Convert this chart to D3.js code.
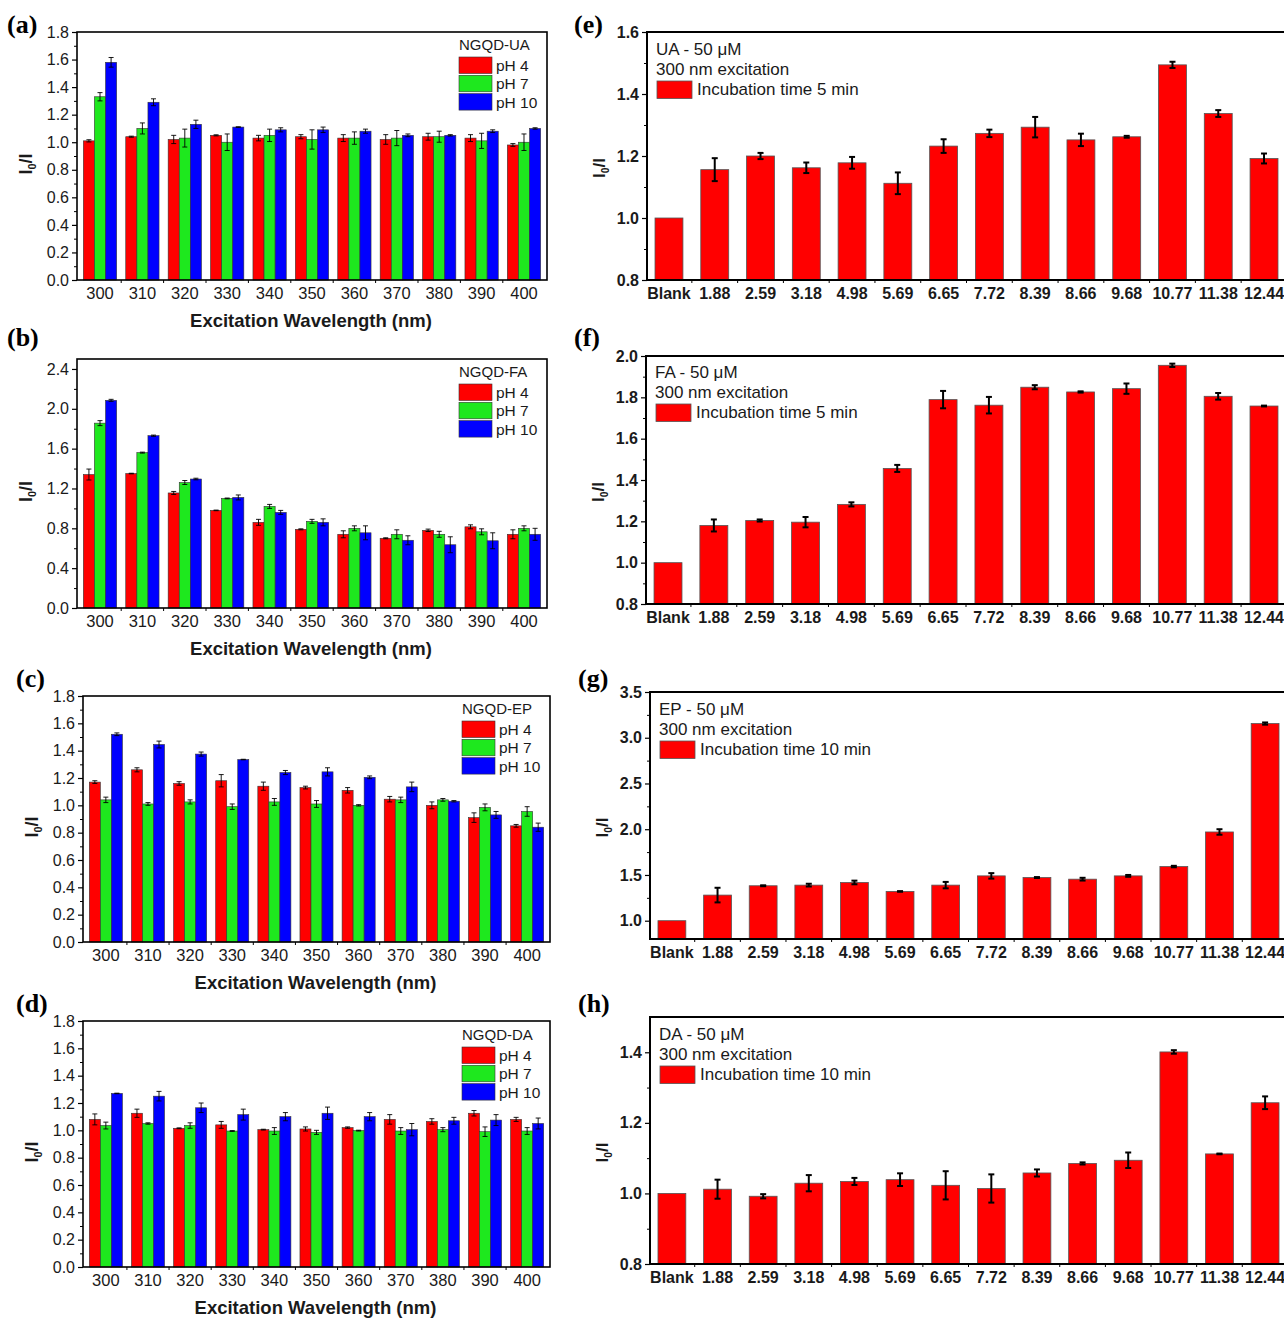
<html>
<head>
<meta charset="utf-8" />
<script src="https://cdn.jsdelivr.net/npm/d3@7/dist/d3.min.js"></script>
<style>
body { margin: 0; background: #fff; }
text { font-family: "Liberation Sans", Arial, sans-serif; fill: #1a1a1a; }
.narrow { font-family: "Liberation Sans Narrow", "Arial Narrow", "Liberation Sans", sans-serif; }
.plabel { font-family: "Liberation Serif", "Times New Roman", serif; font-weight: bold; fill: #000; }
</style>
</head>
<body>
<script>

// ---- data ----
var wavelengths = ["300", "310", "320", "330", "340", "350", "360", "370", "380", "390", "400"];
var phLabels = ["pH 4", "pH 7", "pH 10"];
var phColors = ["#ff0000", "#1ee81e", "#0000ff"];
var concLabels = ["Blank", "1.88", "2.59", "3.18", "4.98", "5.69", "6.65", "7.72", "8.39", "8.66", "9.68", "10.77", "11.38", "12.44"];

var uaPh4  = [1.01, 1.04, 1.02, 1.05, 1.03, 1.04, 1.03, 1.02, 1.04, 1.03, 0.98];
var uaPh4Err  = [0.008, 0.004, 0.03, 0.004, 0.02, 0.015, 0.025, 0.035, 0.025, 0.025, 0.01];
var uaPh7  = [1.33, 1.10, 1.03, 1.00, 1.05, 1.02, 1.03, 1.03, 1.04, 1.01, 1.00];
var uaPh7Err  = [0.03, 0.04, 0.065, 0.06, 0.045, 0.07, 0.045, 0.055, 0.04, 0.055, 0.06];
var uaPh10 = [1.58, 1.29, 1.13, 1.11, 1.09, 1.09, 1.08, 1.05, 1.05, 1.08, 1.10];
var uaPh10Err = [0.035, 0.025, 0.03, 0.002, 0.015, 0.02, 0.015, 0.01, 0.005, 0.01, 0.005];

var faPh4  = [1.34, 1.35, 1.155, 0.98, 0.86, 0.79, 0.74, 0.70, 0.78, 0.815, 0.74];
var faPh4Err  = [0.055, 0.003, 0.015, 0.003, 0.03, 0.005, 0.035, 0.005, 0.012, 0.02, 0.045];
var faPh7  = [1.856, 1.56, 1.26, 1.10, 1.02, 0.87, 0.80, 0.74, 0.74, 0.765, 0.80];
var faPh7Err  = [0.025, 0.005, 0.02, 0.004, 0.02, 0.02, 0.025, 0.045, 0.03, 0.03, 0.025];
var faPh10 = [2.085, 1.73, 1.295, 1.11, 0.96, 0.86, 0.755, 0.68, 0.635, 0.675, 0.74];
var faPh10Err = [0.01, 0.006, 0.008, 0.025, 0.02, 0.035, 0.07, 0.045, 0.08, 0.08, 0.06];

var epPh4  = [1.17, 1.26, 1.16, 1.18, 1.14, 1.13, 1.11, 1.045, 1.00, 0.91, 0.85];
var epPh4Err  = [0.01, 0.015, 0.013, 0.045, 0.03, 0.01, 0.02, 0.02, 0.025, 0.035, 0.01];
var epPh7  = [1.04, 1.01, 1.025, 0.99, 1.025, 1.01, 1.0, 1.04, 1.04, 0.985, 0.955];
var epPh7Err  = [0.02, 0.01, 0.015, 0.02, 0.025, 0.025, 0.005, 0.02, 0.01, 0.025, 0.035];
var epPh10 = [1.52, 1.445, 1.375, 1.335, 1.24, 1.245, 1.205, 1.135, 1.03, 0.93, 0.84];
var epPh10Err = [0.01, 0.025, 0.015, 0.002, 0.015, 0.03, 0.01, 0.035, 0.005, 0.025, 0.03];

var daPh4  = [1.08, 1.125, 1.015, 1.04, 1.005, 1.01, 1.02, 1.08, 1.065, 1.125, 1.08];
var daPh4Err  = [0.04, 0.03, 0.003, 0.025, 0.003, 0.015, 0.005, 0.035, 0.02, 0.02, 0.015];
var daPh7  = [1.035, 1.05, 1.035, 0.995, 0.995, 0.985, 0.998, 0.995, 1.005, 0.99, 0.995];
var daPh7Err  = [0.025, 0.005, 0.02, 0.003, 0.025, 0.015, 0.003, 0.025, 0.015, 0.035, 0.025];
var daPh10 = [1.27, 1.25, 1.165, 1.115, 1.1, 1.125, 1.1, 1.005, 1.07, 1.075, 1.05];
var daPh10Err = [0.002, 0.035, 0.035, 0.04, 0.03, 0.045, 0.03, 0.045, 0.025, 0.04, 0.04];

var ua5min  = [1.0, 1.156, 1.2, 1.162, 1.178, 1.112, 1.232, 1.273, 1.293, 1.252, 1.262, 1.494, 1.337, 1.192];
var ua5minErr = [0, 0.037, 0.01, 0.017, 0.019, 0.035, 0.022, 0.012, 0.033, 0.02, 0.003, 0.01, 0.011, 0.016];
var fa5min  = [1.0, 1.18, 1.204, 1.196, 1.282, 1.456, 1.789, 1.762, 1.849, 1.826, 1.842, 1.955, 1.805, 1.758];
var fa5minErr = [0, 0.029, 0.005, 0.025, 0.01, 0.017, 0.042, 0.04, 0.01, 0.003, 0.025, 0.008, 0.016, 0.002];
var ep10min = [1.0, 1.28, 1.382, 1.389, 1.418, 1.32, 1.389, 1.49, 1.472, 1.454, 1.49, 1.592, 1.97, 3.155];
var ep10minErr = [0, 0.08, 0.005, 0.015, 0.02, 0.003, 0.035, 0.03, 0.005, 0.015, 0.01, 0.008, 0.03, 0.012];
var da10min = [1.0, 1.012, 0.992, 1.029, 1.034, 1.039, 1.023, 1.014, 1.058, 1.085, 1.094, 1.401, 1.112, 1.257];
var da10minErr = [0, 0.027, 0.006, 0.023, 0.01, 0.018, 0.04, 0.04, 0.01, 0.003, 0.022, 0.005, 0.001, 0.018];

var svg = d3.select("body").append("svg").attr("width", 1284).attr("height", 1318);

function yTitle(g, x, y, size, cls) {
	let t = g.append("text")
	    .attr("class", cls || null)
	    .attr("transform", `translate(${x},${y}) rotate(-90)`)
	    .attr("text-anchor", "middle")
	    .attr("font-weight", "bold")
	    .attr("font-size", size);
	t.append("tspan").text("I");
	t.append("tspan").attr("font-size", size * 0.6).attr("dy", 4).text("0");
	t.append("tspan").attr("dy", -4).text("/I");
}

function errorBar(g, cx, y, v, e, w, sw) {
	let y1 = y(v - e), y2 = y(v + e);
	g.append("line").attr("x1", cx).attr("x2", cx).attr("y1", y1).attr("y2", y2)
	    .attr("stroke", "#000").attr("stroke-width", sw);
	[y1, y2].forEach(yy => g.append("line")
	    .attr("x1", cx - w).attr("x2", cx + w).attr("y1", yy).attr("y2", yy)
	    .attr("stroke", "#000").attr("stroke-width", sw));
}

function yTicks(g, y, left, majors, minors, fmt, fontSize, cls, bold) {
	g.append("g")
	    .attr("transform", `translate(${left},0)`)
	    .call(d3.axisLeft(y).tickValues(minors).tickSize(3).tickFormat(""))
	    .call(a => a.select(".domain").remove())
	    .selectAll("line").attr("stroke", "#000").attr("stroke-width", 1);
	let ax = g.append("g")
	    .attr("transform", `translate(${left},0)`)
	    .call(d3.axisLeft(y).tickValues(majors).tickSize(5).tickPadding(3).tickFormat(d3.format(fmt)));
	ax.select(".domain").remove();
	ax.selectAll("line").attr("stroke", "#000").attr("stroke-width", 1.2);
	ax.selectAll("text").attr("font-size", fontSize).attr("font-family", null)
	    .attr("class", cls || null).attr("font-weight", bold ? "bold" : null).attr("fill", "#1a1a1a");
}

function groupedPanel(p) {
	let g = svg.append("g");
	let x = d3.scaleBand().domain(wavelengths).range([p.left, p.right]).paddingInner(0.215).paddingOuter(0.15);
	let xs = d3.scaleBand().domain(phLabels).range([0, x.bandwidth()]);
	let y = d3.scaleLinear().domain([0, p.ymax]).range([p.bottom, p.top]);

	p.values.forEach((vals, k) => {
		g.selectAll(null).data(vals).join("rect")
		    .attr("x", (d, i) => x(wavelengths[i]) + xs(phLabels[k]))
		    .attr("y", d => y(d))
		    .attr("width", xs.bandwidth())
		    .attr("height", d => y(0) - y(d))
		    .attr("fill", phColors[k])
		    .attr("stroke", "#333").attr("stroke-width", 0.6);
		vals.forEach((v, i) => {
			let cx = x(wavelengths[i]) + xs(phLabels[k]) + xs.bandwidth() / 2;
			errorBar(g, cx, y, v, p.errors[k][i], 2.5, 0.9);
		});
	});

	// frame
	g.append("rect").attr("x", p.left).attr("y", p.top)
	    .attr("width", p.right - p.left).attr("height", p.bottom - p.top)
	    .attr("fill", "none").attr("stroke", "#000").attr("stroke-width", 1.6);

	let majors = d3.range(0, p.ymax + 1e-9, p.major).map(v => +v.toFixed(2));
	let minors = d3.range(0, p.ymax + 1e-9, p.minor).map(v => +v.toFixed(2)).filter(v => !majors.includes(v));
	yTicks(g, y, p.left, majors, minors, ".1f", 16);

	// x ticks at group boundaries + labels
	let step = x.step();
	wavelengths.slice(1).forEach(w => {
		let bx = x(w) - (step - x.bandwidth()) / 2;
		g.append("line").attr("x1", bx).attr("x2", bx).attr("y1", p.bottom).attr("y2", p.bottom + 3)
		    .attr("stroke", "#000").attr("stroke-width", 1);
	});
	g.selectAll(null).data(wavelengths).join("text")
	    .attr("x", d => x(d) + x.bandwidth() / 2)
	    .attr("y", p.bottom + 19)
	    .attr("text-anchor", "middle")
	    .attr("font-size", 16.5)
	    .text(d => d);

	g.append("text").attr("x", (p.left + p.right) / 2 - 1).attr("y", p.bottom + 47)
	    .attr("text-anchor", "middle").attr("font-weight", "bold").attr("font-size", 18.5)
	    .text("Excitation Wavelength (nm)");
	yTitle(g, p.left - 45, (p.top + p.bottom) / 2 + 8, 18);

	// legend
	g.append("text").attr("x", p.legX).attr("y", p.legY).attr("font-size", 15).text(p.legTitle);
	phLabels.forEach((l, k) => {
		let yy = p.legY + 7 + k * 18.3;
		g.append("rect").attr("x", p.legX).attr("y", yy).attr("width", 33).attr("height", 16.5)
		    .attr("fill", phColors[k]).attr("stroke", "#333").attr("stroke-width", 0.6);
		g.append("text").attr("x", p.legX + 37).attr("y", yy + 14).attr("font-size", 15.5).text(l);
	});

	g.append("text").attr("class", "plabel").attr("x", p.lx).attr("y", p.ly).attr("font-size", 26).text(p.label);
}

function singlePanel(p) {
	let g = svg.append("g");
	let x = d3.scaleBand().domain(concLabels).range([p.left, p.right]).paddingInner(0.39).paddingOuter(0.175);
	let y = d3.scaleLinear().domain(p.domain).range([p.bottom, p.top]);

	g.selectAll(null).data(p.values).join("rect")
	    .attr("x", (d, i) => x(concLabels[i]))
	    .attr("y", d => y(d))
	    .attr("width", x.bandwidth())
	    .attr("height", d => y(p.domain[0]) - y(d))
	    .attr("fill", "#ff0000")
	    .attr("stroke", "#555").attr("stroke-width", 0.8);
	p.values.forEach((v, i) => {
		if (p.errors[i] > 0)
			errorBar(g, x(concLabels[i]) + x.bandwidth() / 2, y, v, p.errors[i], 3, 2);
	});

	g.append("rect").attr("x", p.left).attr("y", p.top)
	    .attr("width", p.right - p.left).attr("height", p.bottom - p.top)
	    .attr("fill", "none").attr("stroke", "#000").attr("stroke-width", 2);

	yTicks(g, y, p.left, p.majors, p.minors, ".1f", 16, "narrow", true);

	let step = x.step();
	concLabels.slice(1).forEach(c => {
		let bx = x(c) - (step - x.bandwidth()) / 2;
		g.append("line").attr("x1", bx).attr("x2", bx).attr("y1", p.bottom).attr("y2", p.bottom + 3)
		    .attr("stroke", "#000").attr("stroke-width", 1);
	});
	g.selectAll(null).data(concLabels).join("text")
	    .attr("class", "narrow")
	    .attr("x", d => x(d) + x.bandwidth() / 2)
	    .attr("y", p.bottom + 19)
	    .attr("text-anchor", "middle")
	    .attr("font-size", 16).attr("font-weight", "bold")
	    .text(d => d);

	yTitle(g, p.left - 42, (p.top + p.bottom) / 2 + 12, 17, "narrow");

	// legend
	g.append("text").attr("class", "narrow").attr("x", p.legX).attr("y", p.legY).attr("font-size", 17).text(p.lines[0]);
	g.append("text").attr("class", "narrow").attr("x", p.legX).attr("y", p.legY + 20).attr("font-size", 17).text(p.lines[1]);
	g.append("rect").attr("x", p.legX + 1).attr("y", p.legY + 26).attr("width", 35).attr("height", 17.5)
	    .attr("fill", "#ff0000").attr("stroke", "#555").attr("stroke-width", 0.8);
	g.append("text").attr("class", "narrow").attr("x", p.legX + 41).attr("y", p.legY + 40).attr("font-size", 17).text(p.lines[2]);

	g.append("text").attr("class", "plabel").attr("x", p.lx).attr("y", p.ly).attr("font-size", 26).text(p.label);
}

// ---- left column ----
groupedPanel({left: 77, right: 547, top: 32, bottom: 280, ymax: 1.8, major: 0.2, minor: 0.1,
	values: [uaPh4, uaPh7, uaPh10], errors: [uaPh4Err, uaPh7Err, uaPh10Err],
	legTitle: "NGQD-UA", legX: 459, legY: 50, label: "(a)", lx: 7, ly: 33});
groupedPanel({left: 77, right: 547, top: 359, bottom: 608, ymax: 2.5, major: 0.4, minor: 0.2,
	values: [faPh4, faPh7, faPh10], errors: [faPh4Err, faPh7Err, faPh10Err],
	legTitle: "NGQD-FA", legX: 459, legY: 377, label: "(b)", lx: 7, ly: 346});
groupedPanel({left: 83, right: 550, top: 696, bottom: 942, ymax: 1.8, major: 0.2, minor: 0.1,
	values: [epPh4, epPh7, epPh10], errors: [epPh4Err, epPh7Err, epPh10Err],
	legTitle: "NGQD-EP", legX: 462, legY: 714, label: "(c)", lx: 16, ly: 687});
groupedPanel({left: 83, right: 550, top: 1021, bottom: 1267, ymax: 1.8, major: 0.2, minor: 0.1,
	values: [daPh4, daPh7, daPh10], errors: [daPh4Err, daPh7Err, daPh10Err],
	legTitle: "NGQD-DA", legX: 462, legY: 1040, label: "(d)", lx: 16, ly: 1012});

// ---- right column ----
singlePanel({left: 647, right: 1286, top: 32, bottom: 280, domain: [0.8, 1.6],
	majors: [0.8, 1.0, 1.2, 1.4, 1.6], minors: [0.9, 1.1, 1.3, 1.5],
	values: ua5min, errors: ua5minErr,
	lines: ["UA - 50 \u03bcM", "300 nm excitation", "Incubation time 5 min"],
	legX: 656, legY: 55, label: "(e)", lx: 574, ly: 33});
singlePanel({left: 646, right: 1286, top: 356, bottom: 604, domain: [0.8, 2.0],
	majors: [0.8, 1.0, 1.2, 1.4, 1.6, 1.8, 2.0], minors: [0.9, 1.1, 1.3, 1.5, 1.7, 1.9],
	values: fa5min, errors: fa5minErr,
	lines: ["FA - 50 \u03bcM", "300 nm excitation", "Incubation time 5 min"],
	legX: 655, legY: 378, label: "(f)", lx: 574, ly: 346});
singlePanel({left: 650, right: 1287, top: 692, bottom: 939, domain: [0.8, 3.5],
	majors: [1.0, 1.5, 2.0, 2.5, 3.0, 3.5], minors: [1.25, 1.75, 2.25, 2.75, 3.25],
	values: ep10min, errors: ep10minErr,
	lines: ["EP - 50 \u03bcM", "300 nm excitation", "Incubation time 10 min"],
	legX: 659, legY: 715, label: "(g)", lx: 578, ly: 687});
singlePanel({left: 650, right: 1287, top: 1017, bottom: 1264, domain: [0.8, 1.5],
	majors: [0.8, 1.0, 1.2, 1.4], minors: [0.9, 1.1, 1.3],
	values: da10min, errors: da10minErr,
	lines: ["DA - 50 \u03bcM", "300 nm excitation", "Incubation time 10 min"],
	legX: 659, legY: 1040, label: "(h)", lx: 578, ly: 1012});

</script>
</body>
</html>
